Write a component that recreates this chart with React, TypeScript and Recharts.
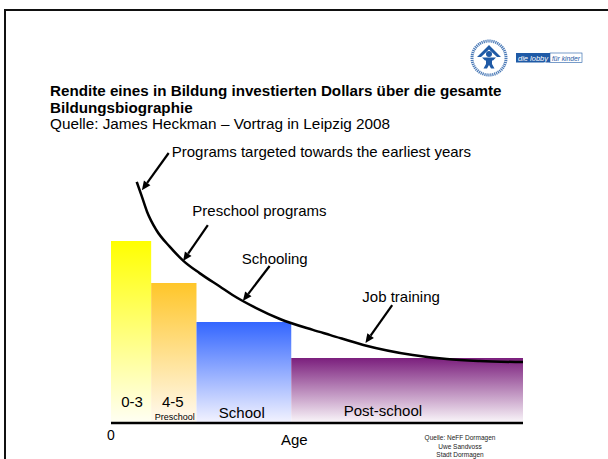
import {
  ComposedChart,
  Line,
  XAxis,
  YAxis,
  ReferenceArea,
  ReferenceLine,
  ReferenceDot,
} from 'recharts';

// Bildungsabschnitte (x in Alters-Einheiten, y = Rendite)
const STAGES = ['0-3', '4-5', 'School', 'Post-school'];
const STAGE_START = [0, 3.9, 8.3, 17.5];
const STAGE_END = [3.9, 8.3, 17.5, 40];
const STAGE_RETURN = [66.7, 51.3, 37, 23.8];
const STAGE_COLORS = ['#ffff00', '#ffc629', '#3366ff', '#7b1f7d'];
const STAGE_BOTTOM = ['#fffff4', '#fffaf2', '#f4f4ff', '#fbf8fb'];

// Heckman-Kurve
const CURVE_AGE = [2.5, 3.0, 3.5, 4.4, 5.7, 7.0, 8.6, 10.6, 11.8, 14.1, 16.4, 19.6, 21.3, 24.5, 29.3, 32.6, 35.8, 40];
const CURVE_RETURN = [88.3, 82.9, 77.4, 70.7, 64.6, 59.5, 54.9, 49.9, 46.9, 42.1, 38.1, 34.1, 32.2, 28.6, 24.9, 23.4, 22.7, 22.3];

// Beschriftungen mit Pfeil (Textanker, Pfeilanfang, Pfeilspitze)
const NOTE_TEXT = [
  'Programs targeted towards the earliest years',
  'Preschool programs',
  'Schooling',
  'Job training',
];
const NOTE_POS = [
  [5.9, 99.6],
  [7.9, 77.7],
  [12.7, 60.4],
  [24.4, 46.2],
];
const ARROW_FROM = [
  [5.6, 98.9],
  [9.4, 72.5],
  [15.4, 57.5],
  [27.3, 43.2],
];
const ARROW_TO = [
  [3.0, 85.3],
  [7.0, 59.3],
  [12.8, 44.7],
  [24.7, 29.3],
];

// Beschriftungen der Balken
const BAR_LABELS = ['0-3', '4-5', 'Preschool', 'School', 'Post-school'];
const BAR_LABEL_POS = [
  [2.05, 7.7],
  [6.0, 7.7],
  [6.2, 2.2],
  [12.7, 3.7],
  [26.4, 4.4],
];
const BAR_LABEL_SIZE = [15, 15, 9, 15, 15];

const FONT = '"Liberation Sans", Arial, sans-serif';
const BLUE = '#1f5aa6';

const curveData = CURVE_AGE.map((age, i) => ({ age, r: CURVE_RETURN[i] }));

const Arrow = (p: any) => {
  const { x1, y1, x2, y2 } = p;
  const a = Math.atan2(y2 - y1, x2 - x1);
  const len = 9;
  const w = 4;
  const bx = x2 - len * Math.cos(a);
  const by = y2 - len * Math.sin(a);
  const px = -Math.sin(a) * w;
  const py = Math.cos(a) * w;
  return (
    <g>
      <line x1={x1} y1={y1} x2={bx} y2={by} stroke="#000" strokeWidth={2.2} />
      <polygon
        points={`${x2},${y2} ${bx + px},${by + py} ${bx - px},${by - py}`}
        fill="#000"
      />
    </g>
  );
};

const makeText = (text: string, size: number, anchor: string) => (p: any) =>
  (
    <text
      x={p.cx}
      y={p.cy}
      fontSize={size}
      fontFamily={FONT}
      fill="#000"
      textAnchor={anchor}
      dominantBaseline="central"
    >
      {text}
    </text>
  );

const AxisTick = (p: any) => {
  const { x, y, payload } = p;
  if (payload.value === 0) {
    return (
      <text x={x} y={y + 10} fontSize={14} fontFamily={FONT} textAnchor="middle" dominantBaseline="central">
        0
      </text>
    );
  }
  return (
    <text x={x} y={y + 14} fontSize={15} fontFamily={FONT} textAnchor="middle" dominantBaseline="central">
      Age
    </text>
  );
};

const Logo = () => (
  <svg width={130} height={44} style={{ position: 'absolute', left: 468, top: 37 }}>
    {/* Emblem */}
    <circle cx={21} cy={21} r={17} fill="#fff" stroke={BLUE} strokeWidth={3} strokeDasharray="1.2 0.8" opacity={0.8} />
    <circle cx={21} cy={21} r={13.5} fill="#fff" />
    <polygon points="21,8 33,20 29,20 21,12.5 13,20 9,20" fill={BLUE} />
    <circle cx={21} cy={17} r={3} fill={BLUE} />
    <path d="M14 20.5 L28 20.5 L25 23.5 L24 23.5 L24 27 L26.5 31.5 L23 31.5 L21 28 L19 31.5 L15.5 31.5 L18 27 L18 23.5 L17 23.5 Z" fill={BLUE} />
    {/* Schriftzug */}
    <rect x={48} y={16} width={34} height={9.5} fill={BLUE} />
    <rect x={82} y={16} width={32} height={9.5} fill="#fff" stroke={BLUE} strokeWidth={0.6} />
    <text x={50} y={21} fontSize={8} fill="#fff" fontStyle="italic" fontFamily={FONT} dominantBaseline="central" textLength={30} lengthAdjust="spacingAndGlyphs">
      die lobby
    </text>
    <text x={84} y={21} fontSize={8} fill={BLUE} fontStyle="italic" fontFamily={FONT} dominantBaseline="central" textLength={28} lengthAdjust="spacingAndGlyphs">
      für kinder
    </text>
  </svg>
);

export default function App() {
  return (
    <div
      style={{
        position: 'absolute',
        left: 0,
        top: 0,
        width: 608,
        height: 459,
        background: '#fff',
        overflow: 'hidden',
        fontFamily: FONT,
        color: '#000',
      }}
    >
      {/* Rahmen */}
      <div style={{ position: 'absolute', left: 3.5, top: 8.5, width: 620, height: 470, borderLeft: '2.5px solid #111', borderTop: '2.5px solid #111' }} />
      <Logo />

      <div style={{ position: 'absolute', left: 50, top: 82, fontSize: 15.2, fontWeight: 'bold', lineHeight: '17px', whiteSpace: 'nowrap' }}>
        Rendite eines in Bildung investierten Dollars über die gesamte
        <br />
        Bildungsbiographie
      </div>
      <div style={{ position: 'absolute', left: 50, top: 115, fontSize: 15.3, lineHeight: '18px', whiteSpace: 'nowrap' }}>
        Quelle: James Heckman – Vortrag in Leipzig 2008
      </div>

      <div style={{ position: 'absolute', left: 0, top: 0 }}>
        <ComposedChart
          width={608}
          height={459}
          data={curveData}
          margin={{ top: 150, right: 85, bottom: 0, left: 111 }}
        >
          <defs>
            {STAGE_COLORS.map((c, i) => (
              <linearGradient key={`g${i}`} id={`g${i}`} x1="0" y1="0" x2="0" y2="1">
                <stop offset="0%" stopColor={c} />
                <stop offset="100%" stopColor={STAGE_BOTTOM[i]} />
              </linearGradient>
            ))}
          </defs>
          <XAxis
            type="number"
            dataKey="age"
            domain={[0, 40]}
            ticks={[0, 17.8]}
            tick={<AxisTick />}
            tickLine={false}
            tickSize={0}
            height={36}
            axisLine={{ stroke: '#000', strokeWidth: 2.5 }}
            allowDataOverflow
          />
          <YAxis
            type="number"
            domain={[0, 100]}
            width={0}
            tick={false}
            tickLine={false}
            axisLine={{ stroke: '#000', strokeWidth: 2.5 }}
            allowDataOverflow
          />
          {STAGES.map((s, i) => (
            <ReferenceArea
              key={s}
              x1={STAGE_START[i]}
              x2={STAGE_END[i]}
              y1={0}
              y2={STAGE_RETURN[i]}
              fill={`url(#g${i})`}
              fillOpacity={1}
              stroke="none"
              ifOverflow="visible"
            />
          ))}
          <Line
            type="monotone"
            dataKey="r"
            stroke="#000"
            strokeWidth={2.5}
            dot={false}
            isAnimationActive={false}
          />
          {ARROW_FROM.map((f, i) => (
            <ReferenceLine
              key={`arrow-${i}`}
              segment={[
                { x: f[0], y: f[1] },
                { x: ARROW_TO[i][0], y: ARROW_TO[i][1] },
              ]}
              shape={Arrow}
              ifOverflow="visible"
            />
          ))}
          {NOTE_TEXT.map((t, i) => (
            <ReferenceDot
              key={`note-${i}`}
              x={NOTE_POS[i][0]}
              y={NOTE_POS[i][1]}
              r={0}
              shape={makeText(t, 15, 'start')}
              ifOverflow="visible"
            />
          ))}
          {BAR_LABELS.map((t, i) => (
            <ReferenceDot
              key={`bl-${i}`}
              x={BAR_LABEL_POS[i][0]}
              y={BAR_LABEL_POS[i][1]}
              r={0}
              shape={makeText(t, BAR_LABEL_SIZE[i], 'middle')}
              ifOverflow="visible"
            />
          ))}
        </ComposedChart>
      </div>

      <div style={{ position: 'absolute', left: 400, top: 434, width: 120, textAlign: 'center', fontSize: 6.5, lineHeight: '8.6px', color: '#222' }}>
        Quelle: NeFF Dormagen
        <br />
        Uwe Sandvoss
        <br />
        Stadt Dormagen
      </div>
    </div>
  );
}
